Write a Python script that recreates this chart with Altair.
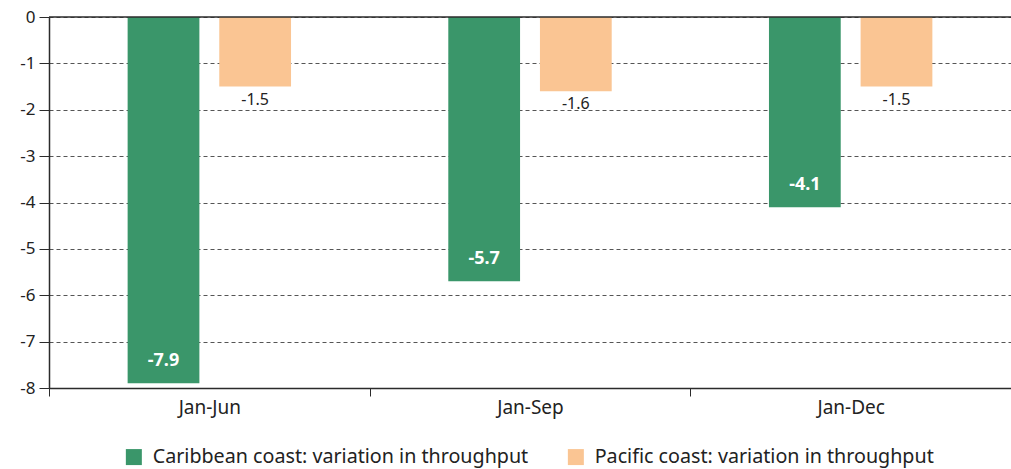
import altair as alt
import pandas as pd

periods = ["Jan-Jun", "Jan-Sep", "Jan-Dec"]
series = ["Caribbean coast: variation in throughput", "Pacific coast: variation in throughput"]
caribbean = [-7.9, -5.7, -4.1]
pacific = [-1.5, -1.6, -1.5]
colors = ["#3A966A", "#FAC593"]
y_ticks = [0, -1, -2, -3, -4, -5, -6, -7, -8]

rows = []
for i, p in enumerate(periods):
    rows.append({"period": p, "series": series[0], "value": caribbean[i], "label": f"{caribbean[i]:.1f}"})
    rows.append({"period": p, "series": series[1], "value": pacific[i], "label": f"{pacific[i]:.1f}"})
df = pd.DataFrame(rows)

FONT = "Noto Sans"

x = alt.X("period:N", sort=periods, title=None,
          scale=alt.Scale(paddingInner=0, paddingOuter=0),
          axis=alt.Axis(labelAngle=0, labelFontSize=19, labelColor="#222", labelPadding=2,
                        tickBand="extent", tickSize=8, tickColor="#2b2b2b",
                        domainColor="#2b2b2b", domainWidth=1.5, grid=False))
xoff = alt.XOffset("series:N", sort=series,
                   scale=alt.Scale(paddingInner=0.217, paddingOuter=0.858))
y = alt.Y("value:Q", title=None,
          scale=alt.Scale(domain=[-8, 0], nice=False, zero=True),
          axis=alt.Axis(values=y_ticks, labelFontSize=17, labelColor="#222", labelPadding=4,
                        labelExpr="datum.value + ''",
                        tickSize=10, tickColor="#2b2b2b", domainColor="#2b2b2b", domainWidth=1.5,
                        grid=True, gridDash=[4, 3], gridColor="#555", gridWidth=1))

bars = alt.Chart(df).mark_bar().encode(
    x=x, xOffset=xoff, y=y,
    color=alt.Color("series:N", sort=series, title=None,
                    scale=alt.Scale(domain=series, range=colors),
                    legend=alt.Legend(orient="none", legendX=75, legendY=430, direction="horizontal",
                                      symbolType="square", symbolSize=256, symbolStrokeWidth=0,
                                      labelFontSize=19.7, labelColor="#222", labelLimit=0,
                                      labelOffset=9, columnPadding=37, symbolOpacity=1)),
)

green_text = alt.Chart(df).transform_filter(alt.datum.series == series[0]).mark_text(
    color="white", fontWeight="bold", fontSize=18, baseline="middle", dy=-22, font=FONT
).encode(x=x, xOffset=xoff, y=y, text="label:N")

orange_text = alt.Chart(df).transform_filter(alt.datum.series == series[1]).mark_text(
    color="#222", fontSize=16, baseline="middle", dy=13, font=FONT
).encode(x=x, xOffset=xoff, y=y, text="label:N")

zero_rule = alt.Chart(pd.DataFrame({"v": [0]})).mark_rule(color="#2b2b2b", strokeWidth=1.5).encode(
    y=alt.Y("v:Q", scale=alt.Scale(domain=[-8, 0], nice=False)))

chart = alt.layer(bars, green_text, orange_text, zero_rule).properties(
    width=962, height=371,
    autosize=alt.AutoSizeParams(type="none"),
    padding={"left": 49, "top": 17, "right": 0, "bottom": 81},
).configure(font=FONT).configure_view(stroke=None)

chart.save("out.html", embed_options={"renderer": "svg", "actions": False})
